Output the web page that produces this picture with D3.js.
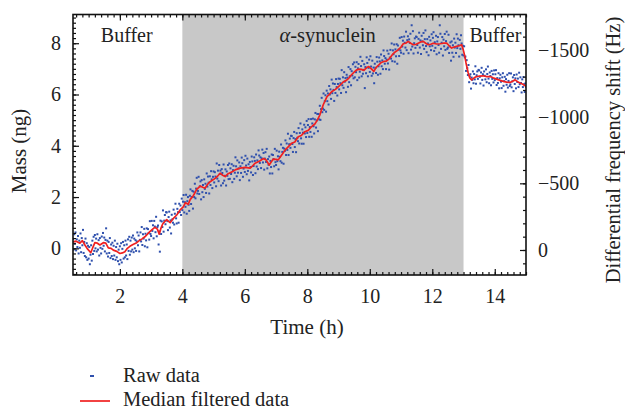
<!DOCTYPE html>
<html>
<head>
<meta charset="utf-8">
<script src="https://cdn.jsdelivr.net/npm/d3@7"></script>
<style>
  body { margin: 0; background: #fff; }
  svg text { font-family: "Liberation Serif", "DejaVu Serif", serif; fill: #222; }
</style>
</head>
<body>
<div id="graph"></div>
<script>
// median filtered trace (time in h, mass in ng)
var medianTime = [0.5,0.6,0.72,0.8,0.88,0.95,1.07,1.14,1.2,1.28,1.36,1.47,1.55,1.63,1.72,1.79,1.9,2.0,2.08,2.16,
  2.24,2.32,2.42,2.54,2.62,2.7,2.8,2.96,3.05,3.12,3.2,3.26,3.32,3.37,3.44,3.5,3.56,3.61,3.7,3.82,
  3.93,4.03,4.1,4.19,4.25,4.35,4.46,4.57,4.65,4.73,4.81,4.89,5.05,5.13,5.21,5.29,5.37,5.45,5.53,5.61,
  5.69,5.85,6.01,6.17,6.25,6.33,6.49,6.6,6.68,6.78,6.85,6.91,7.0,7.07,7.18,7.3,7.38,7.5,7.6,7.71,
  7.81,7.92,8.03,8.14,8.24,8.32,8.4,8.51,8.63,8.7,8.79,8.9,9.0,9.08,9.16,9.25,9.33,9.4,9.49,9.57,
  9.65,9.73,9.81,9.9,9.97,10.05,10.13,10.2,10.29,10.37,10.45,10.53,10.63,10.72,10.8,10.89,11.0,11.07,11.15,11.23,
  11.31,11.39,11.47,11.55,11.63,11.71,11.79,11.87,11.95,12.03,12.14,12.25,12.35,12.46,12.54,12.62,12.7,12.78,12.86,12.94,
  12.99,13.04,13.08,13.15,13.2,13.26,13.34,13.42,13.52,13.63,13.74,13.85,13.95,14.06,14.17,14.28,14.38,14.49,14.57,14.65,
  14.73,14.81,14.9,15.0];
var medianMass = [0.25,0.28,0.2,0.3,0.13,0.0,-0.17,0.05,0.22,0.2,0.13,0.22,0.2,0.02,0.0,-0.07,-0.12,-0.2,-0.18,-0.13,
  0.0,0.08,0.15,0.22,0.3,0.36,0.45,0.65,0.75,0.82,0.75,0.55,0.8,0.95,1.05,1.12,1.05,1.0,1.15,1.3,
  1.5,1.62,1.78,1.72,1.9,2.05,2.3,2.43,2.38,2.35,2.5,2.6,2.73,2.82,2.93,2.85,2.8,2.9,2.95,3.0,
  3.06,3.13,3.16,3.13,3.22,3.32,3.42,3.5,3.45,3.25,3.38,3.48,3.47,3.45,3.64,3.85,3.95,4.1,4.15,4.35,
  4.4,4.55,4.6,4.75,4.85,5.0,5.2,5.6,5.92,6.0,6.12,6.2,6.31,6.4,6.5,6.55,6.64,6.75,6.86,6.95,
  6.99,6.98,6.94,7.05,7.09,7.0,6.9,7.05,7.16,7.25,7.29,7.3,7.4,7.55,7.65,7.72,7.85,7.98,8.0,8.07,
  8.0,7.94,7.95,8.0,8.05,8.07,8.0,7.94,7.96,8.0,7.97,7.98,8.0,8.0,7.9,7.81,7.85,7.88,7.9,7.94,
  7.75,7.5,7.23,6.84,6.65,6.57,6.65,6.7,6.72,6.73,6.7,6.7,6.65,6.6,6.55,6.51,6.48,6.47,6.52,6.57,
  6.5,6.45,6.4,6.32];

// raw readings, one every 0.02 h from 0.5 h (one line = half an hour)
var rawStart = 0.5, rawStep = 0.02;
var rawMass = [
  0.37,-0.05,0.55,0.18,0.62,-0.08,0.35,0.05,0.48,-0.2,0.3,0.02,0.58,-0.15,0.4,0.12,0.72,-0.18,0.25,-0.3,0.38,-0.35,0.2,-0.45,0.1,
  -0.4,0.05,-0.62,-0.25,0.12,-0.48,0.3,-0.22,0.45,-0.1,0.52,0.0,0.38,-0.12,0.55,-0.05,0.32,-0.28,0.4,0.02,-0.2,0.46,-0.02,0.6,0.1,
  0.42,-0.12,0.33,0.78,-0.2,0.3,-0.32,0.25,-0.18,0.4,-0.38,0.15,-0.3,0.22,-0.42,0.1,-0.28,0.3,-0.45,0.05,-0.35,0.18,-0.5,-0.05,-0.62,
  0.08,-0.45,0.2,-0.55,-0.02,0.25,-0.4,0.12,-0.35,0.3,-0.28,0.15,-0.42,0.35,-0.1,0.45,-0.25,0.3,-0.12,0.42,-0.05,0.5,-0.15,0.38,0.0,
  0.32,-0.10,0.27,0.62,0.12,0.50,-0.12,0.33,0.62,0.27,0.83,0.13,0.55,0.38,0.76,0.08,0.57,0.31,0.78,0.04,0.75,0.60,0.34,1.06,0.56,
  0.48,1.07,0.68,0.90,0.39,1.07,0.85,0.63,1.23,0.47,0.83,0.89,0.15,0.66,-0.13,1.08,0.56,1.05,0.83,1.48,0.65,1.08,1.30,0.94,1.41,
  1.40,1.06,0.71,1.22,1.43,0.81,1.09,0.58,1.31,1.13,1.00,1.51,0.93,1.35,1.74,1.17,0.97,1.54,1.41,1.00,1.74,1.41,1.67,1.30,1.94,
  1.49,1.82,2.08,1.40,1.80,1.62,2.09,1.35,1.84,2.00,1.70,1.46,2.05,2.30,1.73,2.00,2.24,1.55,2.21,2.00,2.52,1.95,2.33,2.75,2.14,
  2.24,2.79,2.12,2.42,2.61,1.91,2.66,2.19,2.47,2.00,2.69,2.32,2.52,2.16,2.92,2.41,2.80,2.56,2.14,2.81,2.47,3.01,2.69,2.35,2.79,
  3.00,2.57,2.97,2.80,2.42,3.31,2.72,3.03,2.62,3.25,2.90,3.03,2.45,3.09,2.94,2.54,3.27,2.64,2.83,3.08,2.45,3.00,2.83,3.25,2.70,
  3.31,2.71,3.12,2.90,3.28,2.58,3.05,3.22,2.71,2.95,3.55,3.20,2.81,3.43,2.95,3.12,3.35,2.66,3.20,2.94,3.54,3.32,2.79,3.11,3.44,
  2.98,3.61,3.23,2.89,3.50,3.02,3.28,2.65,3.37,3.17,2.96,3.58,3.39,2.86,3.21,3.55,3.41,2.93,3.66,3.19,3.43,3.09,3.82,3.62,3.33,
  3.55,3.13,3.51,3.85,3.35,3.72,3.07,3.50,3.75,3.37,3.88,3.12,3.48,3.26,3.58,2.92,3.41,3.17,3.66,2.92,3.64,3.48,3.20,3.88,3.36,
  3.25,3.81,3.40,3.59,3.08,3.77,3.57,3.40,4.05,3.34,3.76,3.92,3.30,3.89,3.80,4.21,3.64,4.09,3.84,4.47,3.64,4.06,4.28,3.92,4.39,
  4.38,4.07,3.76,4.30,4.54,3.95,4.26,3.75,4.49,4.31,4.18,4.69,4.09,4.50,4.87,4.29,4.08,4.64,4.51,4.08,4.82,4.48,4.72,4.34,4.97,
  4.50,4.81,5.04,4.35,4.73,4.54,5.04,4.35,4.87,5.06,4.76,4.48,5.03,5.28,4.71,4.99,5.24,4.57,5.24,5.03,5.56,5.01,5.43,5.87,5.31,
  5.45,6.04,5.40,5.74,5.97,5.33,6.15,5.74,6.04,5.61,6.33,6.00,6.20,5.83,6.58,6.05,6.43,6.18,5.75,6.41,6.06,6.60,6.29,5.96,6.41,
  6.62,6.20,6.61,6.44,6.06,6.95,6.36,6.67,6.26,6.87,6.50,6.64,6.09,6.77,6.66,6.30,7.07,6.48,6.71,6.99,6.36,6.91,6.74,7.18,6.63,
  7.25,6.67,7.08,6.87,7.26,6.56,7.02,7.19,6.66,6.89,7.47,7.11,6.71,7.31,6.81,6.96,7.18,6.25,7.07,6.83,7.45,7.23,6.71,7.04,7.36,
  6.88,7.49,7.09,6.73,7.32,6.82,7.05,6.44,7.20,7.04,6.84,7.46,7.28,6.77,7.10,7.44,7.29,6.81,7.56,7.10,7.33,6.99,7.72,7.50,7.20,
  7.42,6.99,7.36,7.71,7.21,7.59,6.97,7.44,7.74,7.40,7.99,7.30,7.72,7.57,7.95,7.28,7.76,7.49,7.96,7.20,7.91,7.75,7.50,8.21,7.72,
  7.63,8.24,7.87,8.10,7.59,8.26,8.02,7.83,8.45,7.73,8.12,8.27,7.61,8.15,8.01,8.37,7.75,8.70,7.87,8.47,7.60,8.00,8.19,7.82,8.26,
  8.24,7.93,7.63,8.17,8.41,7.83,8.11,7.58,8.29,8.07,7.92,8.40,7.78,8.16,8.50,7.89,7.65,8.16,7.99,7.53,8.25,7.88,8.11,7.73,8.35,
  7.90,8.21,8.43,7.70,8.04,7.82,8.29,7.57,8.07,8.24,7.93,7.63,8.70,8.37,7.78,8.02,8.24,7.52,8.14,7.88,8.36,7.74,8.08,8.45,7.78,
  7.83,8.33,7.62,7.88,8.03,7.32,8.07,7.63,7.92,7.47,8.18,7.83,8.02,7.62,8.35,7.81,8.18,7.92,7.48,8.13,7.78,8.31,7.99,7.55,7.90,
  7.52,7.88,7.45,7.48,6.92,7.34,7.03,6.76,7.15,6.48,6.71,6.79,6.23,6.66,6.57,6.90,6.44,6.80,6.59,7.10,6.42,6.75,6.90,6.61,6.96,
  6.94,6.69,6.43,6.86,7.04,6.57,6.79,6.35,6.90,6.73,6.59,6.98,6.48,6.80,7.09,6.62,6.44,6.86,6.72,6.36,6.92,6.61,6.79,6.47,6.94,
  6.56,6.79,6.95,6.37,6.64,6.45,6.83,6.24,6.63,6.77,6.50,6.25,6.67,6.83,6.34,6.52,6.69,6.11,6.60,6.38,6.77,6.27,6.53,6.83,6.33,
  6.39,6.82,6.28,6.51,6.67,6.13,6.76,6.41,6.63,6.24,6.78,6.49,6.62,6.29,6.85,6.40,6.67,6.45,6.08,6.59,6.29,6.68,6.40,6.10,6.43,
  6.30];

// phases of the experiment
var phases = [
  {label: "Buffer", from: 0.5, to: 4, shade: false},
  {label: "synuclein", from: 4, to: 13, shade: true},
  {label: "Buffer", from: 13, to: 15, shade: false}
];

var xTicks = [2, 4, 6, 8, 10, 12, 14];
var massTicks = [0, 2, 4, 6, 8];
var hzTicks = [-1500, -1000, -500, 0];

var W = 625, H = 411;
var pL = 73, pR = 526, pT = 14.5, pB = 275;

var x = d3.scaleLinear().domain([0.5, 15]).range([pL, pR]);
var y = d3.scaleLinear().domain([-1.04, 9.12]).range([pB, pT]);
var yHz = d3.scaleLinear().domain([187.5, -1766]).range([pB, pT]);

var svg = d3.select('#graph').append('svg')
    .attr('width', W)
    .attr('height', H);

svg.append('defs').append('clipPath')
    .attr('id', 'plot')
  .append('rect')
    .attr('x', pL).attr('y', pT)
    .attr('width', pR - pL).attr('height', pB - pT);

// shaded protein phase
svg.append('g')
  .selectAll('rect')
  .data(phases.filter(function(d){ return d.shade; }))
  .enter()
  .append('rect')
    .attr('x', function(d){ return x(d.from); })
    .attr('y', pT)
    .attr('width', function(d){ return x(d.to) - x(d.from); })
    .attr('height', pB - pT)
    .attr('fill', '#c8c8c8');

// raw data dots
var raw = rawMass.map(function(m, i){ return {t: rawStart + i*rawStep, m: m}; });
svg.append('g')
    .attr('clip-path', 'url(#plot)')
  .selectAll('rect')
  .data(raw)
  .enter()
  .append('rect')
    .attr('x', function(d){ return x(d.t) - 1; })
    .attr('y', function(d){ return y(d.m) - 1; })
    .attr('width', 2)
    .attr('height', 2)
    .attr('fill', '#2f50ad');

// median line
var line = d3.line()
    .x(function(d){ return x(d[0]); })
    .y(function(d){ return y(d[1]); });
svg.append('path')
    .attr('clip-path', 'url(#plot)')
    .datum(medianTime.map(function(t, i){ return [t, medianMass[i]]; }))
    .attr('d', line)
    .attr('fill', 'none')
    .attr('stroke', '#f02020')
    .attr('stroke-width', 1.7)
    .attr('stroke-linejoin', 'round');

// phase labels
svg.append('text')
    .attr('x', x(2.22)).attr('y', 42)
    .attr('text-anchor', 'middle')
    .attr('font-size', '20px')
    .text('Buffer');
var syn = svg.append('text')
    .attr('x', x(8.65)).attr('y', 42)
    .attr('text-anchor', 'middle')
    .attr('font-size', '20.5px');
syn.append('tspan').attr('font-style', 'italic').text('\u03b1');
syn.append('tspan').text('-synuclein');
svg.append('text')
    .attr('x', x(14.02)).attr('y', 42)
    .attr('text-anchor', 'middle')
    .attr('font-size', '20px')
    .text('Buffer');

// axes: minor then major, ticks pointing in
function range(a, b, s){ return d3.range(0, Math.round((b - a)/s) + 1).map(function(i){ return +(a + i*s).toFixed(2); }); }

function addAxis(axis, tx, ty, minorVals, majorVals, labels, pad){
  var g = svg.append('g').attr('transform', 'translate(' + tx + ',' + ty + ')');
  g.append('g').call(axis.tickValues(minorVals).tickSize(-3).tickFormat(''));
  var mj = g.append('g').call(axis.tickValues(majorVals).tickSize(-6).tickPadding(pad)
      .tickFormat(labels ? d3.format('d') : ''));
  g.selectAll('.domain').remove();
  g.selectAll('line').attr('stroke', '#111').attr('stroke-width', 1.2);
  mj.selectAll('text').attr('font-size', '20px').attr('font-family', '"Liberation Serif", serif').attr('fill', '#222');
}

addAxis(d3.axisBottom(x), 0, pB, range(0.6, 15, 0.2), xTicks, true, 14);
addAxis(d3.axisTop(x), 0, pT, range(0.6, 15, 0.2), xTicks, false, 3);
addAxis(d3.axisLeft(y), pL, 0, range(-1, 9, 0.2), massTicks, true, 12);
addAxis(d3.axisRight(yHz), pR, 0, range(-1700, 100, 100), hzTicks, true, 12);

// frame
svg.append('rect')
    .attr('x', pL).attr('y', pT)
    .attr('width', pR - pL).attr('height', pB - pT)
    .attr('fill', 'none')
    .attr('stroke', '#111')
    .attr('stroke-width', 1.6);

// axis titles
svg.append('text')
    .attr('x', 307).attr('y', 334)
    .attr('text-anchor', 'middle')
    .attr('font-size', '21px')
    .text('Time (h)');
svg.append('text')
    .attr('transform', 'translate(26,151)rotate(-90)')
    .attr('text-anchor', 'middle')
    .attr('font-size', '21px')
    .text('Mass (ng)');
svg.append('text')
    .attr('transform', 'translate(620,150)rotate(-90)')
    .attr('text-anchor', 'middle')
    .attr('font-size', '20.5px')
    .text('Differential frequency shift (Hz)');

// legend
var legend = svg.append('g');
legend.append('rect')
    .attr('x', 90).attr('y', 375)
    .attr('width', 4).attr('height', 2)
    .attr('fill', '#2f50ad');
legend.append('text')
    .attr('x', 123).attr('y', 382)
    .attr('font-size', '20.5px')
    .text('Raw data');
legend.append('line')
    .attr('x1', 80).attr('x2', 110)
    .attr('y1', 401).attr('y2', 401)
    .attr('stroke', '#f02020')
    .attr('stroke-width', 1.7);
legend.append('text')
    .attr('x', 123).attr('y', 406)
    .attr('font-size', '20.5px')
    .text('Median filtered data');
</script>
</body>
</html>
